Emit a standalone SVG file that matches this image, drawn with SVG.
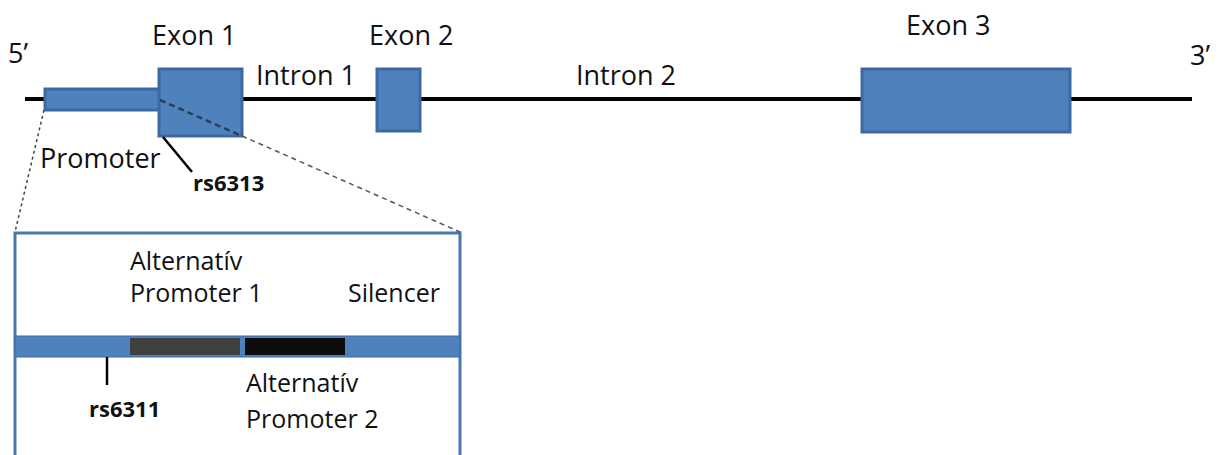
<svg xmlns="http://www.w3.org/2000/svg" width="1229" height="455" viewBox="0 0 1229 455">
<style>
.t{font-family:"Open Sans","Liberation Sans",sans-serif;font-size:27px;fill:#111}
.s{font-family:"Open Sans","Liberation Sans",sans-serif;font-size:25px;fill:#111}
.b{font-family:"Open Sans","Liberation Sans",sans-serif;font-size:22px;font-weight:bold;fill:#111}
.ex{fill:#4F81BD;stroke:#3D69A3;stroke-width:3}
.ln{stroke:#000;stroke-width:2.5;fill:none}
</style>
<rect width="1229" height="455" fill="#fff"/>
<g id="backbone"><line x1="25" y1="99" x2="1192" y2="99" stroke="#000" stroke-width="4"/></g>
<g id="promoter"><rect class="ex" x="45" y="89" width="115" height="21"/><text class="t" x="40" y="168">Promoter</text></g>
<g id="exon1"><rect class="ex" x="159" y="69" width="83" height="67"/><text class="t" x="152" y="45">Exon 1</text></g>
<g id="exon2"><rect class="ex" x="377" y="69" width="43" height="62"/><text class="t" x="369" y="45">Exon 2</text></g>
<g id="exon3"><rect class="ex" x="862" y="69" width="208" height="63"/><text class="t" x="906" y="35">Exon 3</text></g>
<g id="labels">
<text class="t" x="8" y="63">5’</text>
<text class="t" x="1190" y="65">3’</text>
<text class="t" x="256" y="85">Intron 1</text>
<text class="t" x="576" y="85">Intron 2</text>
</g>
<g id="rs6313"><text class="b" x="193" y="191">rs6313</text></g>
<g id="zoombox">
<rect x="15" y="233" width="445" height="240" fill="#fff" stroke="#4A76B0" stroke-width="3"/>
<rect x="15" y="336" width="445" height="21" fill="#4F81BD" stroke="#3D69A3" stroke-width="1"/>
</g>
<g id="altpromoter1"><rect x="130" y="338" width="110" height="17" fill="#404040"/><text class="s" x="130" y="270">Alternatív</text><text class="s" x="130" y="302">Promoter 1</text></g>
<g id="silencer"><rect x="245" y="338" width="100" height="17" fill="#0D0D0D"/><text class="s" x="348" y="302">Silencer</text></g>
<g id="altpromoter2"><text class="s" x="246" y="392">Alternatív</text><text class="s" x="246" y="428">Promoter 2</text></g>
<g id="rs6311"><text class="b" x="89" y="417">rs6311</text></g>
<g id="connectors">
<line x1="44" y1="110" x2="15" y2="232" stroke="#444" stroke-width="1.5" stroke-dasharray="3 3"/>
<line x1="160" y1="100" x2="242" y2="136" stroke="#2B3E5A" stroke-width="2.5" stroke-dasharray="6 4"/>
<line x1="242" y1="136" x2="460" y2="232" stroke="#555" stroke-width="1.5" stroke-dasharray="5 4"/>
<line class="ln" x1="163" y1="137" x2="192" y2="172"/>
<line class="ln" x1="107" y1="357" x2="107" y2="385"/>
</g>
</svg>
